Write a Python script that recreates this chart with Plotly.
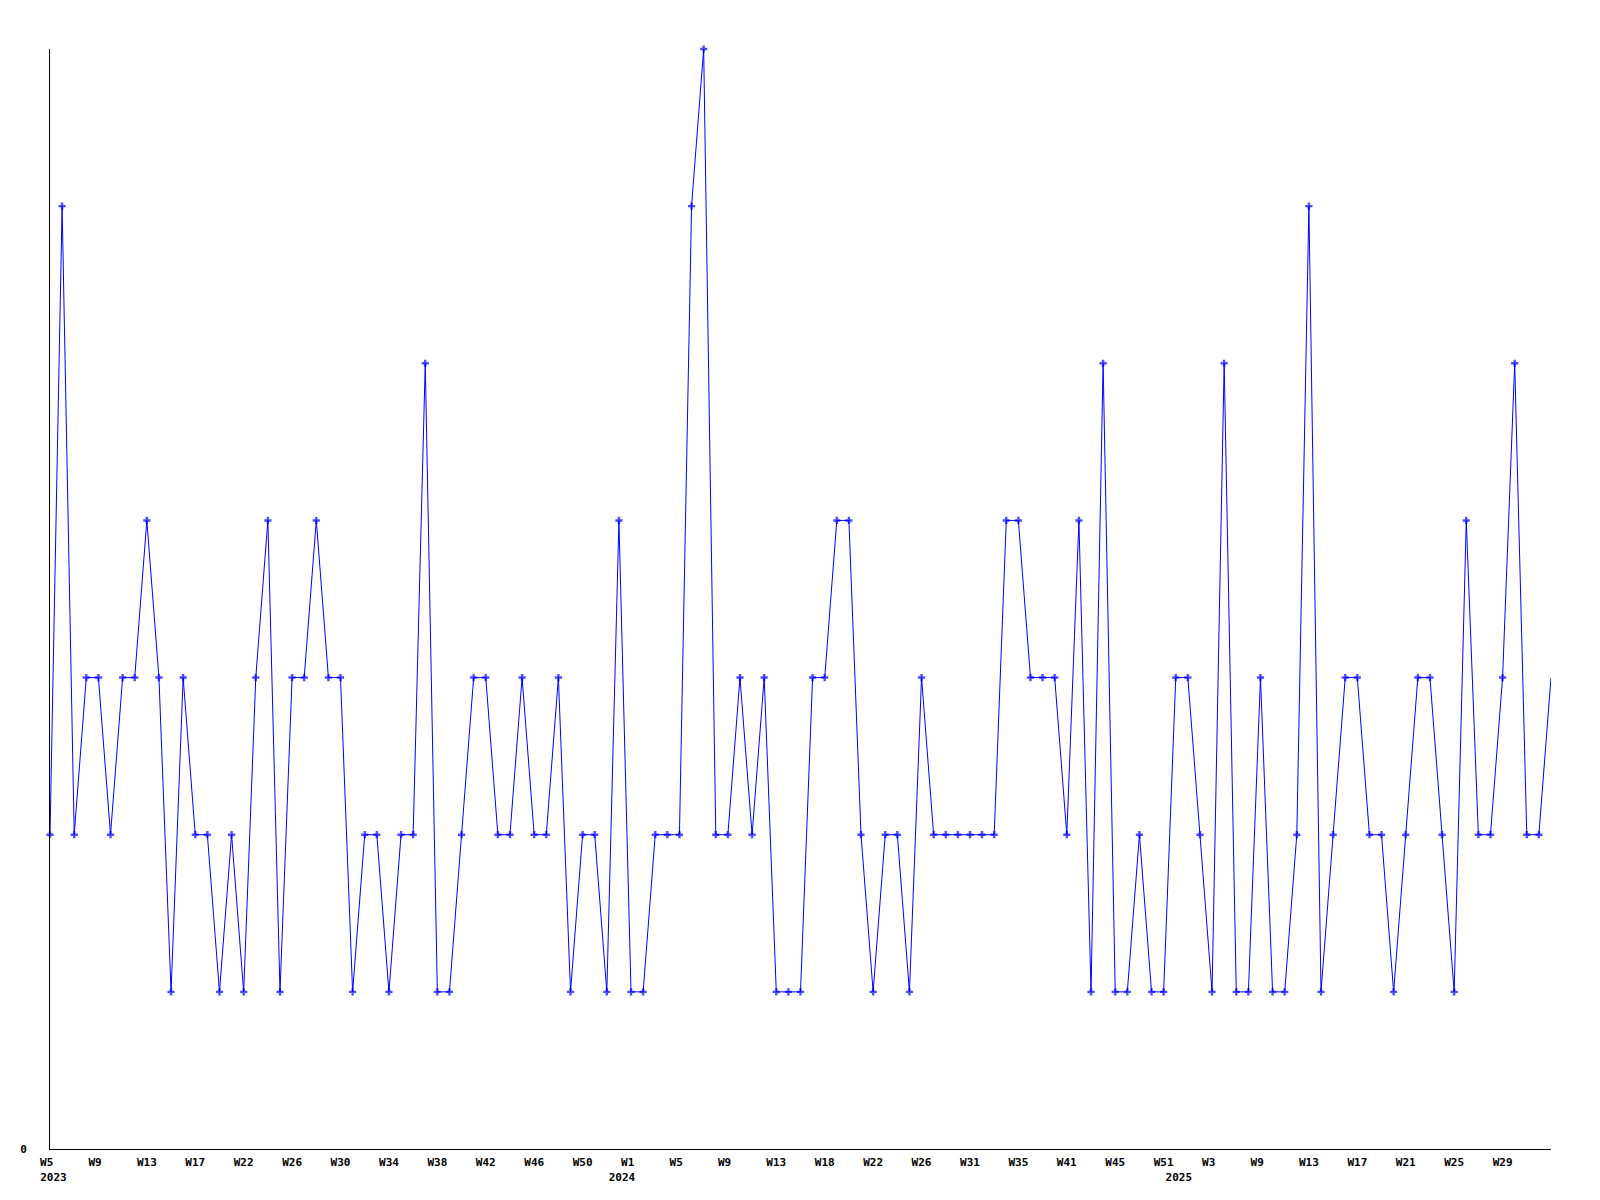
import plotly.graph_objects as go

# ---- data ----
weeks_2023 = list(range(5, 20)) + list(range(21, 54))
weeks_2024 = (list(range(1, 16)) + list(range(17, 28)) + list(range(29, 37)) + [38]
              + list(range(40, 47)) + [48] + list(range(50, 53)))
weeks_2025 = [1, 2, 3, 4, 6, 8] + list(range(9, 34))

values = [
    2, 6, 2, 3, 3, 2, 3, 3, 4, 3,
    1, 3, 2, 2, 1, 2, 1, 3, 4, 1,
    3, 3, 4, 3, 3, 1, 2, 2, 1, 2,
    2, 5, 1, 1, 2, 3, 3, 2, 2, 3,
    2, 2, 3, 1, 2, 2, 1, 4, 1, 1,
    2, 2, 2, 6, 7, 2, 2, 3, 2, 3,
    1, 1, 1, 3, 3, 4, 4, 2, 1, 2,
    2, 1, 3, 2, 2, 2, 2, 2, 2, 4,
    4, 3, 3, 3, 2, 4, 1, 5, 1, 1,
    2, 1, 1, 3, 3, 2, 1, 5, 1, 1,
    3, 1, 1, 2, 6, 1, 2, 3, 3, 2,
    2, 1, 2, 3, 3, 2, 1, 4, 2, 2,
    3, 5, 2, 2, 3,
]

years = [2023] * len(weeks_2023) + [2024] * len(weeks_2024) + [2025] * len(weeks_2025)
weeks = weeks_2023 + weeks_2024 + weeks_2025
categories = [f"{y}-W{w:02d}" for y, w in zip(years, weeks)]
xpos = list(range(len(categories)))
n = len(categories)

NB = "\u00a0"

# week ticks every 4th point (left-aligned look via padding)
tickvals, ticktext = [], []
for i in range(0, n - 4, 4):
    lab = f"W{weeks[i]}"
    if len(lab) == 2:
        lab += NB
    tickvals.append(i)
    ticktext.append("<b>" + lab + "</b>")

# year labels on a second row, near the year boundary
for y in sorted(set(years)):
    first = years.index(y)
    pos = max(first - 0.75, 0.28)
    tickvals.append(pos)
    ticktext.append(NB + "<br><b>" + str(y) + "</b>")

sizes = [6] * n
sizes[-1] = 0

fig = go.Figure(
    go.Scatter(
        x=xpos,
        y=values,
        mode="lines+markers",
        line=dict(color="#0000ff", width=1),
        marker=dict(symbol="cross", size=sizes, color="#0000ff", line=dict(width=0)),
        cliponaxis=False,
        hovertext=categories,
        hoverinfo="text+y",
    )
)

fig.update_layout(
    width=1600,
    height=1200,
    margin=dict(l=50, r=49, t=49, b=51),
    paper_bgcolor="white",
    plot_bgcolor="white",
    showlegend=False,
    font=dict(family="DejaVu Sans Mono", size=11, color="black"),
)

fig.update_xaxes(
    range=[0, n - 1],
    tickvals=tickvals,
    ticktext=ticktext,
    showline=True,
    linecolor="black",
    linewidth=1,
    showgrid=False,
    zeroline=False,
    ticks="outside",
    ticklen=3,
    tickcolor="rgba(0,0,0,0)",
    tickangle=0,
    automargin=False,
)
fig.update_yaxes(
    range=[0, 7],
    tickvals=[0],
    ticktext=["<b>0</b>"],
    showline=True,
    linecolor="black",
    linewidth=1,
    showgrid=False,
    zeroline=False,
    ticks="",
    ticklabelstandoff=20,
    automargin=False,
)

fig.write_html(
    "out.html",
    config={"displayModeBar": False},
    post_script="document.body.style.margin='0';document.body.style.padding='0';",
)
